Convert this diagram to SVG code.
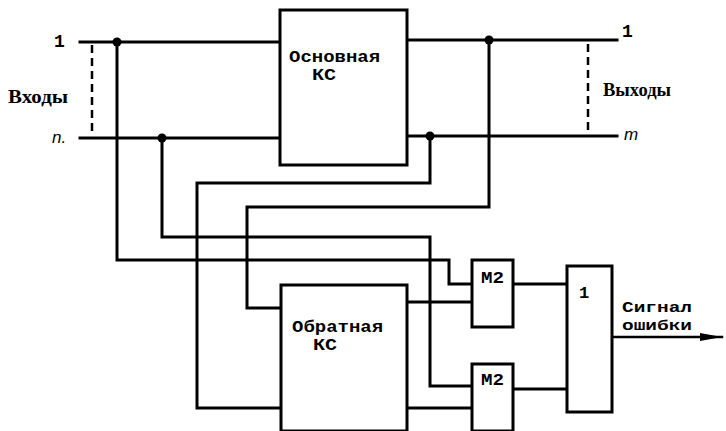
<svg xmlns="http://www.w3.org/2000/svg" width="726" height="431" viewBox="0 0 726 431">
<style>
.w{fill:none;stroke:#000;stroke-width:3;stroke-linejoin:miter;stroke-linecap:square}
.box{fill:#fff;stroke:#000;stroke-width:3}
.d{fill:none;stroke:#000;stroke-width:2.5;stroke-dasharray:8 5}
.t{font-family:"Liberation Mono",monospace;font-weight:bold;font-size:15px;fill:#000}
.s{font-family:"Liberation Serif",serif;font-weight:bold;font-size:18px;fill:#000}
.i{font-family:"Liberation Sans",sans-serif;font-style:italic;font-size:17px;fill:#000}
</style>
<defs>
<marker id="ah" markerWidth="22" markerHeight="10" refX="22" refY="5" orient="auto" markerUnits="userSpaceOnUse">
<path d="M0,1 L22,5 L0,9 Z" fill="#000"/>
</marker>
</defs>
<g id="connectors">
<path class="w" d="M80,42 H280"/>
<path class="w" d="M80,138 H280"/>
<path class="w" d="M407,40 H617"/>
<path class="w" d="M407,136 H617"/>
<path class="d" d="M92,45 V135"/>
<path class="d" d="M588,44 V131"/>
<path class="w" d="M117,42 V260 H449 V284 H472"/>
<path class="w" d="M162,138 V237 H430 V386 H472"/>
<path class="w" d="M430,136 V183 H197 V408 H281"/>
<path class="w" d="M489,40 V207 H247 V308 H281"/>
<path class="w" d="M407,302 H472"/>
<path class="w" d="M407,408 H472"/>
<path class="w" d="M513,284 H567"/>
<path class="w" d="M513,389 H567"/>
<path class="w" d="M612,337 H722" marker-end="url(#ah)" style="stroke-width:2.5"/>
<circle cx="117" cy="42" r="4.5"/>
<circle cx="162" cy="138" r="4.5"/>
<circle cx="489" cy="40" r="4.5"/>
<circle cx="430" cy="136" r="4.5"/>
</g>
<g id="main_ks">
<rect class="box" x="280" y="10" width="127" height="155"/>
<text class="t" x="289" y="62" textLength="91" lengthAdjust="spacingAndGlyphs" style="font-size:16px">Основная</text>
<text class="t" x="312" y="80" textLength="24" lengthAdjust="spacingAndGlyphs" style="font-size:16px">КС</text>
</g>
<g id="inverse_ks">
<rect class="box" x="281" y="285" width="126" height="146"/>
<text class="t" x="292" y="332" textLength="91" lengthAdjust="spacingAndGlyphs" style="font-size:16px">Обратная</text>
<text class="t" x="313" y="350" textLength="24" lengthAdjust="spacingAndGlyphs" style="font-size:16px">КС</text>
</g>
<g id="m2_top">
<rect class="box" x="472" y="260" width="41" height="67"/>
<text class="t" x="481" y="283" textLength="23" lengthAdjust="spacingAndGlyphs" style="font-size:16px">М2</text>
</g>
<g id="m2_bottom">
<rect class="box" x="472" y="364" width="41" height="67"/>
<text class="t" x="481" y="385" textLength="23" lengthAdjust="spacingAndGlyphs" style="font-size:16px">М2</text>
</g>
<g id="or_gate">
<rect class="box" x="567" y="266" width="45" height="146"/>
<text class="t" x="579" y="298" style="font-size:17px">1</text>
</g>
<g id="labels">
<text class="t" x="54" y="47" style="font-size:18px">1</text>
<text class="i" x="52" y="143">n.</text>
<text class="s" x="8" y="103" textLength="60" lengthAdjust="spacingAndGlyphs">Входы</text>
<text class="t" x="622" y="37" style="font-size:18px">1</text>
<text class="i" x="624" y="140">m</text>
<text class="s" x="603" y="96" textLength="68" lengthAdjust="spacingAndGlyphs">Выходы</text>
<text class="t" x="622" y="312" textLength="70" lengthAdjust="spacingAndGlyphs">Сигнал</text>
<text class="t" x="622" y="330" textLength="70" lengthAdjust="spacingAndGlyphs">ошибки</text>
</g>
</svg>
